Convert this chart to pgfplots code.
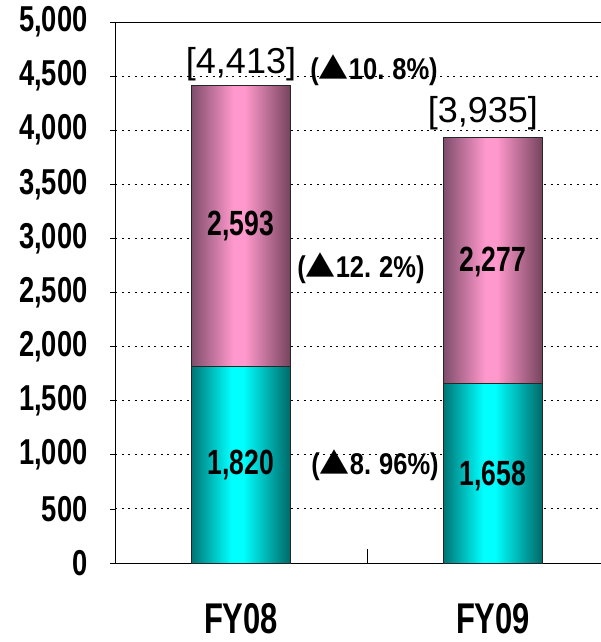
\documentclass[border=0pt]{standalone}
\usepackage{fontspec}
\setmainfont{Liberation Sans}
\newfontfamily\cond[FakeStretch=0.76]{Liberation Sans}
\newfontfamily\condb[FakeStretch=0.85]{Liberation Sans}
\newfontfamily\condx[FakeStretch=0.72]{Liberation Sans}
\newfontfamily\jp{Noto Sans CJK JP}
\usepackage{pgfplots}
\pgfplotsset{compat=1.18}
\definecolor{cyanhi}{RGB}{0,255,255}
\definecolor{cyanlo}{RGB}{0,118,118}
\definecolor{cyanlor}{RGB}{0,105,105}
\definecolor{pinkhi}{RGB}{255,152,204}
\definecolor{pinklo}{RGB}{128,78,108}
\definecolor{pinklor}{RGB}{118,68,94}
\pgfdeclarehorizontalshading{cyanbar}{100bp}{color(0bp)=(cyanlo); color(25bp)=(cyanlo); color(45bp)=(cyanhi); color(51bp)=(cyanhi); color(75bp)=(cyanlor); color(100bp)=(cyanlor)}
\pgfdeclarehorizontalshading{pinkbar}{100bp}{color(0bp)=(pinklo); color(25bp)=(pinklo); color(46bp)=(pinkhi); color(52bp)=(pinkhi); color(75bp)=(pinklor); color(100bp)=(pinklor)}
\newcommand{\chg}[3]{{\condb\bfseries(}{\jp\fontsize{30}{30}\selectfont ▲}{\condb\bfseries #1.\hspace{8pt}#2#3\%)}}
\pgfplotsset{
  common/.style={
    at={(115pt,79pt)}, anchor=south west,
    scale only axis, width=504pt, height=541pt,
    xmin=-0.5, xmax=1.5, ymin=0, ymax=5000,
    clip=false,
  },
}
\tikzset{
  barstyle/.style={draw=black!85, line width=0.8pt},
  barlabel/.style={font=\cond\bfseries\fontsize{35}{35}\selectfont},
  chglabel/.style={font=\fontsize{30}{30}\selectfont, inner sep=0pt},
}
\begin{document}
\begin{tikzpicture}
\useasboundingbox (0pt,0pt) rectangle (601pt,642pt);
\clip (0pt,0pt) rectangle (601pt,642pt);
% axis, grid and FY08 bars
\begin{axis}[
  common,
  ybar stacked, bar width=0.39,
  ytick={0,500,...,5000},
  ymajorgrids,
  grid style={black, line width=0.9pt, dash pattern=on 2pt off 4.5pt},
  axis line style={black, line width=0.9pt},
  /pgf/number format/assume math mode=true,
  /pgf/number format/1000 sep={,},
  scaled y ticks=false,
  ytick pos=left, tick align=outside,
  ytick style={black, line width=0.8pt, /pgfplots/major tick length=5pt},
  yticklabel style={font=\cond\bfseries\fontsize{36}{36}\selectfont, inner sep=0pt, xshift=-23pt},
  xtick={0,1}, xticklabels={FY08,FY09},
  xtick pos=bottom,
  xtick style={/pgfplots/major tick length=0pt},
  xticklabel style={font=\condx\bfseries\fontsize{43}{43}\selectfont, inner sep=0pt, yshift=-36pt},
  extra x ticks={0.5}, extra x tick labels={},
  extra x tick style={grid=none, tick align=inside, xtick style={/pgfplots/major tick length=14pt, black, line width=0.8pt}},
]
\addplot[barstyle, shading=cyanbar] coordinates {(0,1820)};
\addplot[barstyle, shading=pinkbar] coordinates {(0,2593)};
\end{axis}
% FY09 bars
\begin{axis}[common, hide axis, ybar stacked, bar width=0.39]
\addplot[barstyle, shading=cyanbar] coordinates {(1,1658)};
\addplot[barstyle, shading=pinkbar] coordinates {(1,2277)};
\end{axis}
% labels
\begin{axis}[common, hide axis]
\node[barlabel] at (axis cs:0,910) {1,820};
\node[barlabel] at (axis cs:0,3116) {2,593};
\node[barlabel] at (axis cs:1,800) {1,658};
\node[barlabel] at (axis cs:1,2780) {2,277};
\node[font=\fontsize{36}{36}\selectfont] at (axis cs:0,4612) {[4,413]};
\node[font=\fontsize{36}{36}\selectfont] at (axis cs:0.96,4159) {[3,935]};
\node[chglabel] at (axis cs:0.528,4556) {\chg{10}{8}{}};
\node[chglabel] at (axis cs:0.476,2726) {\chg{12}{2}{}};
\node[chglabel] at (axis cs:0.532,906) {\chg{8}{9}{6}};
\end{axis}
\end{tikzpicture}
\end{document}
